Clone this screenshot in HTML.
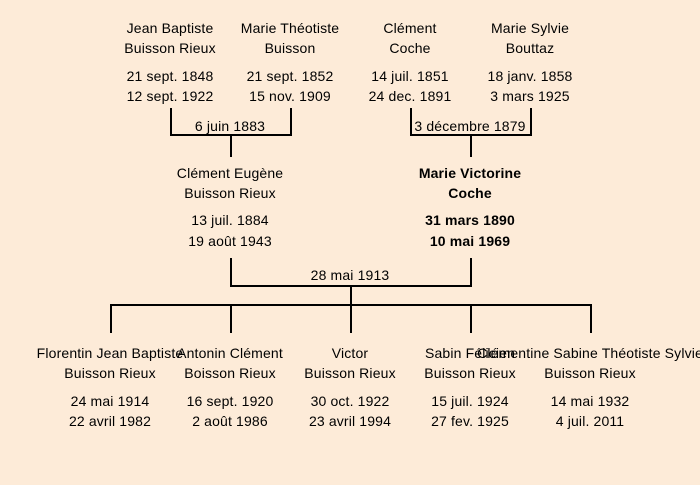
<!DOCTYPE html>
<html><head><meta charset="utf-8"><style>
html,body{margin:0;padding:0;}
body{width:700px;height:485px;background:#fdebd8;position:relative;overflow:hidden;font-family:"Liberation Sans","DejaVu Sans",sans-serif;font-size:14px;letter-spacing:0.15px;color:#000;}
.t{position:absolute;white-space:nowrap;transform:translate(-50%,-50%);line-height:16px;margin-top:1px;}
.b{font-weight:bold;}
svg{position:absolute;left:0;top:0;}
</style></head><body>
<svg width="700" height="485">
<g stroke="#000" stroke-width="2" fill="none">
<polyline points="171,108 171,135 291,135 291,108"/>
<line x1="231" y1="135" x2="231" y2="157"/>
<polyline points="411,108 411,135 531,135 531,108"/>
<line x1="471" y1="135" x2="471" y2="157"/>
<polyline points="231,258 231,286 471,286 471,258"/>
<line x1="351" y1="286" x2="351" y2="305"/>
<line x1="110" y1="305" x2="592" y2="305"/>
<line x1="111" y1="305" x2="111" y2="333"/>
<line x1="231" y1="305" x2="231" y2="333"/>
<line x1="351" y1="305" x2="351" y2="333"/>
<line x1="471" y1="305" x2="471" y2="333"/>
<line x1="591" y1="305" x2="591" y2="333"/>
</g></svg>

<div class="t" style="left:170px;top:27px">Jean Baptiste</div>
<div class="t" style="left:170px;top:47px">Buisson Rieux</div>
<div class="t" style="left:170px;top:75px">21 sept. 1848</div>
<div class="t" style="left:170px;top:95px">12 sept. 1922</div>

<div class="t" style="left:290px;top:27px">Marie Théotiste</div>
<div class="t" style="left:290px;top:47px">Buisson</div>
<div class="t" style="left:290px;top:75px">21 sept. 1852</div>
<div class="t" style="left:290px;top:95px">15 nov. 1909</div>

<div class="t" style="left:410px;top:27px">Clément</div>
<div class="t" style="left:410px;top:47px">Coche</div>
<div class="t" style="left:410px;top:75px">14 juil. 1851</div>
<div class="t" style="left:410px;top:95px">24 dec. 1891</div>

<div class="t" style="left:530px;top:27px">Marie Sylvie</div>
<div class="t" style="left:530px;top:47px">Bouttaz</div>
<div class="t" style="left:530px;top:75px">18 janv. 1858</div>
<div class="t" style="left:530px;top:95px">3 mars 1925</div>

<div class="t" style="left:230px;top:125px">6 juin 1883</div>
<div class="t" style="left:470px;top:125px">3 décembre 1879</div>

<div class="t" style="left:230px;top:172px">Clément Eugène</div>
<div class="t" style="left:230px;top:192px">Buisson Rieux</div>
<div class="t" style="left:230px;top:219px">13 juil. 1884</div>
<div class="t" style="left:230px;top:240px">19 août 1943</div>

<div class="t b" style="left:470px;top:172px">Marie Victorine</div>
<div class="t b" style="left:470px;top:192px">Coche</div>
<div class="t b" style="left:470px;top:219px">31 mars 1890</div>
<div class="t b" style="left:470px;top:240px">10 mai 1969</div>

<div class="t" style="left:350px;top:274px">28 mai 1913</div>

<div class="t" style="left:110px;top:352px">Florentin Jean Baptiste</div>
<div class="t" style="left:110px;top:372px">Buisson Rieux</div>
<div class="t" style="left:110px;top:400px">24 mai 1914</div>
<div class="t" style="left:110px;top:420px">22 avril 1982</div>

<div class="t" style="left:230px;top:352px">Antonin Clément</div>
<div class="t" style="left:230px;top:372px">Boisson Rieux</div>
<div class="t" style="left:230px;top:400px">16 sept. 1920</div>
<div class="t" style="left:230px;top:420px">2 août 1986</div>

<div class="t" style="left:350px;top:352px">Victor</div>
<div class="t" style="left:350px;top:372px">Buisson Rieux</div>
<div class="t" style="left:350px;top:400px">30 oct. 1922</div>
<div class="t" style="left:350px;top:420px">23 avril 1994</div>

<div class="t" style="left:470px;top:352px">Sabin Félicien</div>
<div class="t" style="left:470px;top:372px">Buisson Rieux</div>
<div class="t" style="left:470px;top:400px">15 juil. 1924</div>
<div class="t" style="left:470px;top:420px">27 fev. 1925</div>

<div class="t" style="left:590px;top:352px">Clémentine Sabine Théotiste Sylvie</div>
<div class="t" style="left:590px;top:372px">Buisson Rieux</div>
<div class="t" style="left:590px;top:400px">14 mai 1932</div>
<div class="t" style="left:590px;top:420px">4 juil. 2011</div>
</body></html>
